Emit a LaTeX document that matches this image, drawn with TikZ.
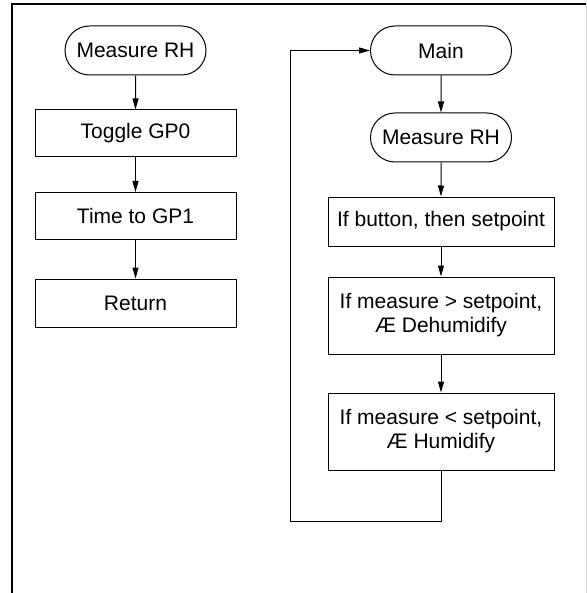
\documentclass[tikz,border=0pt]{standalone}
\usepackage{fontspec}
\setmainfont{Liberation Sans}
\usetikzlibrary{positioning,shapes.misc,arrows.meta}
\tikzset{
  terminal/.style = {rounded rectangle,draw,line width=0.5pt,minimum width=70.5pt,minimum height=24.5pt,inner sep=0pt},
  process/.style  = {rectangle,draw,line width=0.5pt,minimum width=100.5pt,minimum height=23.5pt,inner sep=0pt,align=center},
  wideproc/.style = {process,minimum width=113pt},
  flow/.style     = {->,line width=0.5pt},
  frame/.style    = {line width=1pt},
  every node/.style = {font=\fontsize{10.5}{12}\selectfont},
  >={Triangle[length=5.5pt,width=3pt]}
}

\begin{document}
\begin{tikzpicture}[x=0.5pt,y=-0.5pt]
    \useasboundingbox (0,0) rectangle (587,593);
    % outer frame
    \draw[frame] (12,593) -- (12,4) -- (586,4);
    \draw[gray!35,line width=0.5pt] (586,4) -- (586,593);

    % subroutine (left)
    \node[terminal] (mrh)  at (135.5,50.5) {Measure RH};
    \node[process]  (tog)  at (135.5,133.5) {Toggle GP0};
    \node[process]  (time) at (135.5,216) {Time to GP1};
    \node[process,minimum height=24pt] (ret) at (135.5,303) {Return};

    \draw[flow] (mrh) -- (tog);
    \draw[flow] (tog) -- (time);
    \draw[flow] (time) -- (ret);

    % main loop (right)
    \node[terminal] (main)  at (441,50.5) {Main};
    \node[terminal] (mrhm)  at (441,137.5) {Measure RH};
    \node[wideproc,minimum height=24.5pt] (btn) at (441,221.5) {If button, then setpoint};
    \node[wideproc,minimum height=38.5pt] (dehum) at (441,315.5)
      {If measure > setpoint,\\Æ Dehumidify};
    \node[wideproc,minimum height=38.5pt] (hum) at (441,431.5)
      {If measure < setpoint,\\Æ Humidify};

    \draw[flow] (main) -- (mrhm);
    \draw[flow] (mrhm) -- (btn);
    \draw[flow] (btn) -- (dehum);
    \draw[flow] (dehum) -- (hum);

    \coordinate (loopcorner) at (290,521);
    \draw[flow] (hum.south) |- (loopcorner) |- (main.west);
  \end{tikzpicture}
\end{document}
